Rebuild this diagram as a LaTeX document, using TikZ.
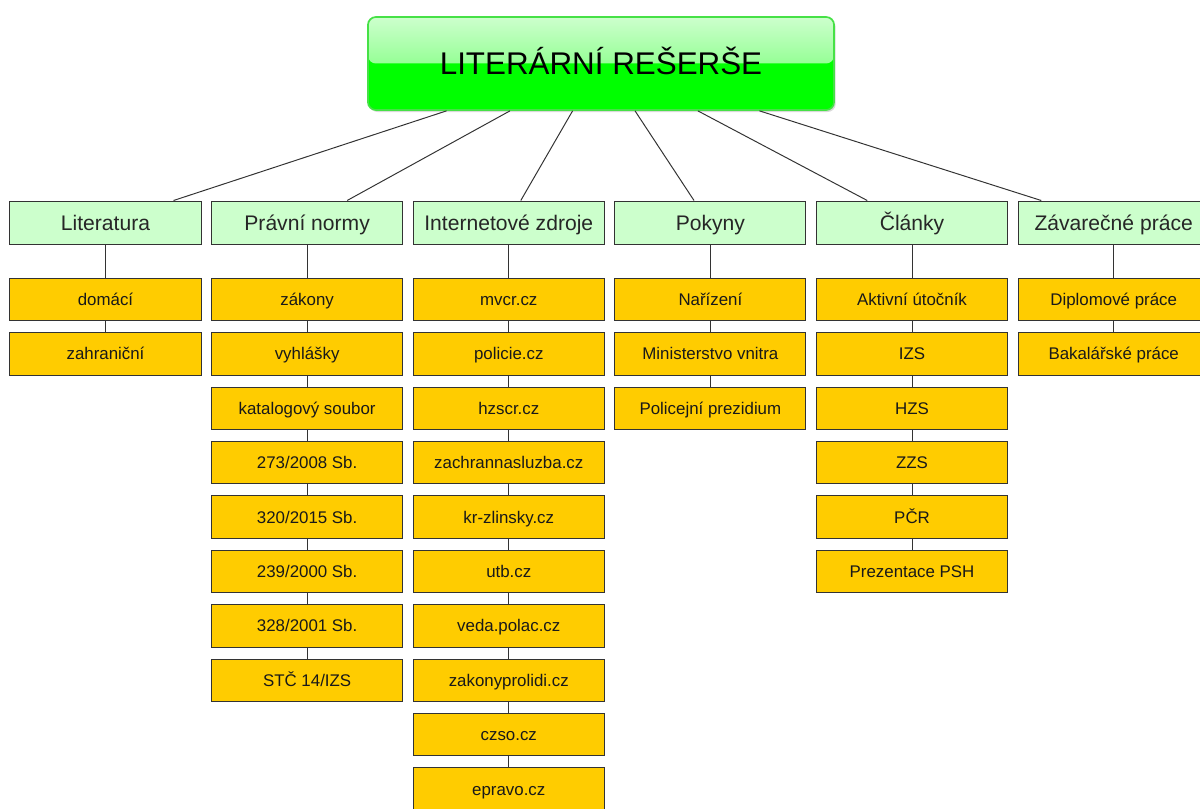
\documentclass[tikz,border=0pt]{standalone}
\usepackage{fontspec}
\setmainfont{Liberation Sans}
\usetikzlibrary{positioning,shadows}

\definecolor{rootgreen}{RGB}{0,255,0}
\definecolor{rootedge}{RGB}{70,225,70}
\definecolor{rootlight}{RGB}{205,255,205}
\definecolor{rootmid}{RGB}{95,255,95}
\definecolor{catfill}{RGB}{204,255,204}
\definecolor{itemfill}{RGB}{255,204,0}
\definecolor{boxline}{RGB}{51,51,51}

\begin{document}
\begin{tikzpicture}[x=0.025cm, y=-0.025cm,
  rootbox/.style={draw=rootedge, line width=1.2pt, fill=rootgreen, rounded corners=0.2cm,
    minimum width=11.65cm, minimum height=2.325cm, inner sep=0pt,
    text height=16pt, text depth=0pt,
    font=\fontsize{22.3}{26}\selectfont,
    drop shadow={shadow xshift=0.04cm, shadow yshift=-0.05cm, opacity=0.3},
    path picture={\fill[top color=rootlight, bottom color=rootmid]
      (path picture bounding box.north west) rectangle (path picture bounding box.east);}},
  catbox/.style={draw=boxline, line width=0.7pt, fill=catfill, text=black!85,
    minimum width=4.775cm, minimum height=1.075cm, inner sep=0pt,
    text height=10.7pt, text depth=-1pt,
    font=\fontsize{15}{18}\selectfont},
  itembox/.style={draw=boxline, line width=0.7pt, fill=itemfill, text=black!90,
    minimum width=4.775cm, minimum height=1.06cm, inner sep=0pt,
    text height=8.6pt, text depth=-0.5pt,
    font=\fontsize{12}{14}\selectfont},
  link/.style={draw=boxline, line width=0.7pt}]

  \path[use as bounding box, clip] (0,0) rectangle (1200,808);

  \node[rootbox] (root) at (601,63.5) {LITERÁRNÍ REŠERŠE};

  \node[catbox] (lit) at (105.5,222.5) {Literatura};
  \node[catbox, right=0.24cm of lit] (pravo) {Právní normy};
  \node[catbox, right=0.24cm of pravo] (inet) {Internetové zdroje};
  \node[catbox, right=0.24cm of inet] (pokyny) {Pokyny};
  \node[catbox, right=0.24cm of pokyny] (clanky) {Články};
  \node[catbox, right=0.24cm of clanky] (zaver) {Závarečné práce};

  \draw[link] ([xshift=-3.86cm]root.south) -- ([xshift=1.7cm]lit.north);
  \draw[link] ([xshift=-2.275cm]root.south) -- ([xshift=1.0cm]pravo.north);
  \draw[link] ([xshift=-0.71cm]root.south) -- ([xshift=0.3cm]inet.north);
  \draw[link] ([xshift=0.85cm]root.south) -- ([xshift=-0.41cm]pokyny.north);
  \draw[link] ([xshift=2.42cm]root.south) -- ([xshift=-1.12cm]clanky.north);
  \draw[link] ([xshift=3.96cm]root.south) -- ([xshift=-1.81cm]zaver.north);

  \node[itembox, below=0.83cm of lit] (lit1) {domácí};
  \node[itembox, below=0.275cm of lit1] (lit2) {zahraniční};
  \draw[link] (lit) -- (lit1);
  \draw[link] (lit1) -- (lit2);

  \node[itembox, below=0.83cm of pravo] (pravo1) {zákony};
  \node[itembox, below=0.275cm of pravo1] (pravo2) {vyhlášky};
  \node[itembox, below=0.275cm of pravo2] (pravo3) {katalogový soubor};
  \node[itembox, below=0.275cm of pravo3] (pravo4) {273/2008 Sb.};
  \node[itembox, below=0.275cm of pravo4] (pravo5) {320/2015 Sb.};
  \node[itembox, below=0.275cm of pravo5] (pravo6) {239/2000 Sb.};
  \node[itembox, below=0.275cm of pravo6] (pravo7) {328/2001 Sb.};
  \node[itembox, below=0.275cm of pravo7] (pravo8) {STČ 14/IZS};
  \draw[link] (pravo) -- (pravo1);
  \draw[link] (pravo1) -- (pravo2);
  \draw[link] (pravo2) -- (pravo3);
  \draw[link] (pravo3) -- (pravo4);
  \draw[link] (pravo4) -- (pravo5);
  \draw[link] (pravo5) -- (pravo6);
  \draw[link] (pravo6) -- (pravo7);
  \draw[link] (pravo7) -- (pravo8);

  \node[itembox, below=0.83cm of inet] (inet1) {mvcr.cz};
  \node[itembox, below=0.275cm of inet1] (inet2) {policie.cz};
  \node[itembox, below=0.275cm of inet2] (inet3) {hzscr.cz};
  \node[itembox, below=0.275cm of inet3] (inet4) {zachrannasluzba.cz};
  \node[itembox, below=0.275cm of inet4] (inet5) {kr-zlinsky.cz};
  \node[itembox, below=0.275cm of inet5] (inet6) {utb.cz};
  \node[itembox, below=0.275cm of inet6] (inet7) {veda.polac.cz};
  \node[itembox, below=0.275cm of inet7] (inet8) {zakonyprolidi.cz};
  \node[itembox, below=0.275cm of inet8] (inet9) {czso.cz};
  \node[itembox, below=0.275cm of inet9] (inet10) {epravo.cz};
  \draw[link] (inet) -- (inet1);
  \draw[link] (inet1) -- (inet2);
  \draw[link] (inet2) -- (inet3);
  \draw[link] (inet3) -- (inet4);
  \draw[link] (inet4) -- (inet5);
  \draw[link] (inet5) -- (inet6);
  \draw[link] (inet6) -- (inet7);
  \draw[link] (inet7) -- (inet8);
  \draw[link] (inet8) -- (inet9);
  \draw[link] (inet9) -- (inet10);

  \node[itembox, below=0.83cm of pokyny] (pok1) {Nařízení};
  \node[itembox, below=0.275cm of pok1] (pok2) {Ministerstvo vnitra};
  \node[itembox, below=0.275cm of pok2] (pok3) {Policejní prezidium};
  \draw[link] (pokyny) -- (pok1);
  \draw[link] (pok1) -- (pok2);
  \draw[link] (pok2) -- (pok3);

  \node[itembox, below=0.83cm of clanky] (cl1) {Aktivní útočník};
  \node[itembox, below=0.275cm of cl1] (cl2) {IZS};
  \node[itembox, below=0.275cm of cl2] (cl3) {HZS};
  \node[itembox, below=0.275cm of cl3] (cl4) {ZZS};
  \node[itembox, below=0.275cm of cl4] (cl5) {PČR};
  \node[itembox, below=0.275cm of cl5] (cl6) {Prezentace PSH};
  \draw[link] (clanky) -- (cl1);
  \draw[link] (cl1) -- (cl2);
  \draw[link] (cl2) -- (cl3);
  \draw[link] (cl3) -- (cl4);
  \draw[link] (cl4) -- (cl5);
  \draw[link] (cl5) -- (cl6);

  \node[itembox, below=0.83cm of zaver] (zav1) {Diplomové práce};
  \node[itembox, below=0.275cm of zav1] (zav2) {Bakalářské práce};
  \draw[link] (zaver) -- (zav1);
  \draw[link] (zav1) -- (zav2);
\end{tikzpicture}
\end{document}
